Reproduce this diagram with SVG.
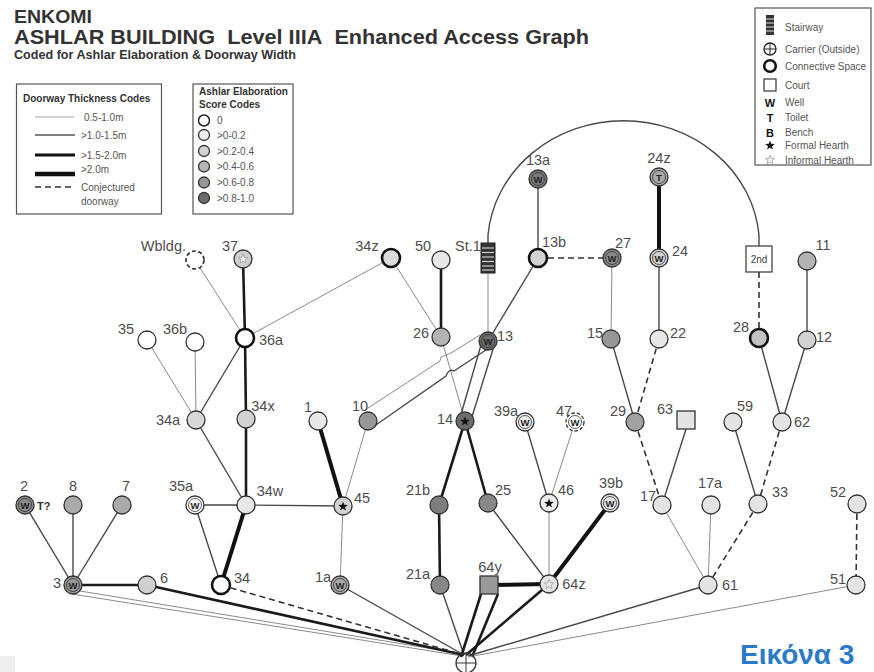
<svg xmlns="http://www.w3.org/2000/svg" xmlns:xlink="http://www.w3.org/1999/xlink" width="874" height="672" viewBox="0 0 874 672">
<style>
text{font-family:"Liberation Sans",Arial,sans-serif}
.lbl{font-size:14.5px;fill:#4d4d4d}
.leg{font-size:10px;fill:#555}
.legb{font-size:10px;font-weight:bold;fill:#333}
.t{stroke:#8a8a8a;stroke-width:1;fill:none}
.m{stroke:#484848;stroke-width:1.4;fill:none}
.k{stroke:#1a1a1a;stroke-width:2.6;fill:none}
.x{stroke:#111;stroke-width:4;fill:none}
.d{stroke:#333;stroke-width:1.6;stroke-dasharray:6 4;fill:none}
.n{stroke:#333;stroke-width:1.3}
.cs{stroke:#111;stroke-width:2.6}
.w{font-size:9.5px;font-weight:bold;fill:#222;text-anchor:middle}
.ring{fill:none;stroke:#333;stroke-width:0.8}
.fs{fill:#111}
.is{fill:#eee;stroke:#999;stroke-width:0.7}
.box{fill:#fff;stroke:#555;stroke-width:1.2}
</style>
<defs>
<path id="star" d="M0,-5 L1.23,-1.7 L4.76,-1.55 L2,0.65 L2.94,4.05 L0,2.1 L-2.94,4.05 L-2,0.65 L-4.76,-1.55 L-1.23,-1.7 Z"/>
</defs>
<rect width="874" height="672" fill="#fff"/>
<rect x="0" y="656" width="15" height="16" fill="#efefef"/>

<g id="title">
<text x="14" y="23" font-size="18" font-weight="bold" fill="#333" textLength="78" lengthAdjust="spacingAndGlyphs">ENKOMI</text>
<text x="14" y="44" font-size="20" font-weight="bold" fill="#333" textLength="575" lengthAdjust="spacingAndGlyphs">ASHLAR BUILDING&#160; Level IIIA&#160; Enhanced Access Graph</text>
<text x="14" y="59" font-size="12.5" font-weight="bold" fill="#333" textLength="282" lengthAdjust="spacingAndGlyphs">Coded for Ashlar Elaboration &amp; Doorway Width</text>
</g>

<g id="legend-doorway">
<rect class="box" x="16.5" y="84" width="145" height="130"/>
<text class="legb" x="23" y="102">Doorway Thickness Codes</text>
<line x1="35" y1="117" x2="74" y2="117" stroke="#999" stroke-width="0.9"/>
<text class="leg" x="84" y="120.5">0.5-1.0m</text>
<line x1="35" y1="135" x2="75" y2="135" stroke="#555" stroke-width="1.5"/>
<text class="leg" x="81" y="138.5">&gt;1.0-1.5m</text>
<line x1="35" y1="155" x2="75" y2="155" stroke="#111" stroke-width="2.8"/>
<text class="leg" x="81" y="158.5">&gt;1.5-2.0m</text>
<line x1="35" y1="174" x2="75" y2="174" stroke="#111" stroke-width="4.5"/>
<text class="leg" x="81" y="173">&gt;2.0m</text>
<line x1="35" y1="187" x2="75" y2="187" stroke="#333" stroke-width="1.5" stroke-dasharray="6 4"/>
<text class="leg" x="81" y="191">Conjectured</text>
<text class="leg" x="81" y="205">doorway</text>
</g>

<g id="legend-ashlar">
<rect class="box" x="193" y="84" width="100" height="130"/>
<text class="legb" x="199" y="95">Ashlar Elaboration</text>
<text class="legb" x="199" y="108">Score Codes</text>
<circle cx="204" cy="120.5" r="5.5" fill="#fff" stroke="#222" stroke-width="1.5"/>
<text class="leg" x="217" y="124">0</text>
<circle cx="204" cy="135" r="5.5" fill="#ececec" stroke="#333" stroke-width="1.3"/>
<text class="leg" x="217" y="138.5">&gt;0-0.2</text>
<circle cx="204" cy="151" r="5.5" fill="#d2d2d2" stroke="#333" stroke-width="1.3"/>
<text class="leg" x="217" y="154.5">&gt;0.2-0.4</text>
<circle cx="204" cy="166.5" r="5.5" fill="#b5b5b5" stroke="#333" stroke-width="1.3"/>
<text class="leg" x="217" y="170">&gt;0.4-0.6</text>
<circle cx="204" cy="182.5" r="5.5" fill="#979797" stroke="#333" stroke-width="1.3"/>
<text class="leg" x="217" y="186">&gt;0.6-0.8</text>
<circle cx="204" cy="198" r="5.5" fill="#6c6c6c" stroke="#333" stroke-width="1.3"/>
<text class="leg" x="217" y="201.5">&gt;0.8-1.0</text>
</g>

<g id="legend-symbols">
<rect class="box" x="755" y="8" width="116" height="157"/>
<rect x="766" y="15" width="8" height="20" fill="#333"/>
<g stroke="#ddd" stroke-width="1"><line x1="766" y1="19" x2="774" y2="19"/><line x1="766" y1="23" x2="774" y2="23"/><line x1="766" y1="27" x2="774" y2="27"/><line x1="766" y1="31" x2="774" y2="31"/></g>
<text class="leg" x="785" y="31">Stairway</text>
<circle cx="770" cy="49" r="6" fill="#fff" stroke="#222" stroke-width="1.3"/>
<line x1="764" y1="49" x2="776" y2="49" stroke="#222" stroke-width="1"/><line x1="770" y1="43" x2="770" y2="55" stroke="#222" stroke-width="1"/>
<text class="leg" x="785" y="52.5">Carrier (Outside)</text>
<circle cx="770" cy="66" r="5.8" fill="#fff" stroke="#111" stroke-width="2.6"/>
<text class="leg" x="785" y="69.5">Connective Space</text>
<rect x="764" y="79" width="12" height="12" fill="#fff" stroke="#333" stroke-width="1.2"/>
<text class="leg" x="785" y="89">Court</text>
<text x="770" y="106.5" font-size="11" font-weight="bold" fill="#111" text-anchor="middle">W</text>
<text class="leg" x="785" y="106">Well</text>
<text x="770" y="121.5" font-size="11" font-weight="bold" fill="#111" text-anchor="middle">T</text>
<text class="leg" x="785" y="121">Toilet</text>
<text x="770" y="136.5" font-size="11" font-weight="bold" fill="#111" text-anchor="middle">B</text>
<text class="leg" x="785" y="136">Bench</text>
<use href="#star" x="770" y="145.5" class="fs"/>
<text class="leg" x="785" y="149">Formal Hearth</text>
<use href="#star" x="770" y="160" class="is"/>
<text class="leg" x="785" y="163.5">Informal Hearth</text>
</g>

<g id="connectors">
<path class="m" d="M488,243 V235 A136,125 0 0 1 759,235 V246"/>
<line class="t" x1="195" y1="260" x2="245" y2="338"/>
<line class="k" x1="243" y1="259" x2="245" y2="338"/>
<line class="t" x1="391" y1="258" x2="245" y2="338"/>
<line class="k" x1="245" y1="338" x2="246" y2="419"/>
<line class="m" x1="245" y1="338" x2="196" y2="420"/>
<line class="t" x1="147" y1="340" x2="196" y2="420"/>
<line class="t" x1="195" y1="342" x2="196" y2="420" stroke="#aaa"/>
<line class="k" x1="246" y1="419" x2="246" y2="505"/>
<line class="m" x1="196" y1="420" x2="246" y2="505"/>
<line class="t" x1="391" y1="258" x2="441" y2="337"/>
<line class="k" x1="441" y1="260" x2="441" y2="337" stroke="#333"/>
<line class="t" x1="441" y1="337" x2="465" y2="421"/>
<line class="t" x1="488" y1="273" x2="488" y2="341"/>
<line class="m" x1="538" y1="258" x2="488" y2="341"/>
<line class="m" x1="538" y1="179" x2="538" y2="258"/>
<line class="d" x1="538" y1="258" x2="612" y2="258"/>
<line class="t" x1="612" y1="258" x2="611" y2="339"/>
<line class="x" x1="659" y1="177" x2="659" y2="258"/>
<line class="m" x1="659" y1="258" x2="659" y2="339"/>
<line class="d" x1="759" y1="272" x2="759" y2="338"/>
<line class="m" x1="807" y1="261" x2="807" y2="340"/>
<line class="m" x1="611" y1="339" x2="635" y2="422"/>
<line class="d" x1="659" y1="339" x2="635" y2="422"/>
<line class="m" x1="759" y1="338" x2="782" y2="422"/>
<line class="m" x1="807" y1="340" x2="782" y2="422"/>
<path class="t" d="M365,410 L440,361 L441,357 L451,353 L480,335" stroke="#555"/>
<path class="m" d="M373,427 L446,376 Q449,368 454,371 L492,346" stroke-width="2" stroke="#222"/>
<line class="m" x1="481" y1="345" x2="460" y2="418"/>
<line class="m" x1="494" y1="346" x2="470" y2="423"/>
<line class="k" x1="465" y1="421" x2="439" y2="505"/>
<line class="k" x1="465" y1="421" x2="488" y2="503"/>
<line class="x" x1="318" y1="421" x2="343" y2="506" stroke-width="3.5"/>
<line class="t" x1="368" y1="421" x2="343" y2="506"/>
<line class="m" x1="246" y1="505" x2="343" y2="506"/>
<line class="m" x1="195" y1="505" x2="246" y2="505"/>
<line class="m" x1="195" y1="505" x2="221" y2="585"/>
<line class="x" x1="246" y1="505" x2="221" y2="585" stroke-width="3.5"/>
<line class="t" x1="343" y1="506" x2="340" y2="585"/>
<line class="k" x1="439" y1="505" x2="440" y2="585" stroke-width="3"/>
<line class="m" x1="525" y1="422" x2="549" y2="503"/>
<line class="t" x1="575" y1="422" x2="549" y2="503"/>
<line class="d" x1="635" y1="422" x2="662" y2="505"/>
<line class="m" x1="686" y1="429" x2="662" y2="505"/>
<line class="m" x1="733" y1="422" x2="758" y2="504"/>
<line class="d" x1="782" y1="422" x2="758" y2="504"/>
<line class="m" x1="25" y1="505" x2="73" y2="585"/>
<line class="m" x1="73" y1="505" x2="73" y2="585"/>
<line class="m" x1="122" y1="505" x2="73" y2="585"/>
<line class="k" x1="73" y1="585" x2="147" y2="585" stroke-width="3.2"/>
<line class="m" x1="488" y1="503" x2="549" y2="584"/>
<line class="t" x1="549" y1="503" x2="549" y2="584"/>
<line class="x" x1="610" y1="503" x2="549" y2="584"/>
<line class="x" x1="489" y1="585" x2="549" y2="584"/>
<line class="t" x1="662" y1="505" x2="708" y2="585"/>
<line class="t" x1="711" y1="505" x2="708" y2="585"/>
<line class="d" x1="758" y1="504" x2="708" y2="585"/>
<line class="d" x1="857" y1="504" x2="856" y2="585"/>
<line class="t" x1="72" y1="594" x2="462" y2="656" stroke="#444"/>
<line class="t" x1="80" y1="591" x2="464" y2="654" stroke="#444"/>
<line class="k" x1="147" y1="585" x2="464" y2="655" stroke-width="3"/>
<line class="d" x1="221" y1="585" x2="464" y2="655"/>
<line class="m" x1="340" y1="585" x2="464" y2="655"/>
<line class="m" x1="440" y1="585" x2="464" y2="655"/>
<line class="k" x1="481" y1="594" x2="461" y2="657"/>
<line class="k" x1="498" y1="594" x2="472" y2="657"/>
<line class="k" x1="549" y1="584" x2="466" y2="655"/>
<line class="m" x1="708" y1="585" x2="468" y2="656"/>
<line class="t" x1="856" y1="585" x2="468" y2="657" stroke="#555"/>
</g>

<g id="node-Wbldg"><circle cx="195" cy="260" r="9" fill="#fff" stroke="#333" stroke-width="1.7" stroke-dasharray="4 2.5"/><text class="lbl" x="186" y="251" text-anchor="end">Wbldg.</text></g>
<g id="node-37"><circle class="n" cx="243" cy="259" r="9" fill="#cfcfcf"/><use href="#star" x="243" y="259" class="is"/><text class="lbl" x="230" y="251" text-anchor="middle">37</text></g>
<g id="node-34z"><circle class="cs" cx="391" cy="258" r="9" fill="#dcdcdc"/><text class="lbl" x="367" y="251" text-anchor="middle">34z</text></g>
<g id="node-50"><circle class="n" cx="441" cy="260" r="9" fill="#e8e8e8"/><text class="lbl" x="423" y="251" text-anchor="middle">50</text></g>
<g id="node-St1"><rect x="481" y="243" width="14" height="30" fill="#333" stroke="#222"/><g stroke="#ccc" stroke-width="1.2"><line x1="482" y1="248" x2="494" y2="248"/><line x1="482" y1="252.5" x2="494" y2="252.5"/><line x1="482" y1="257" x2="494" y2="257"/><line x1="482" y1="261.5" x2="494" y2="261.5"/><line x1="482" y1="266" x2="494" y2="266"/><line x1="482" y1="270" x2="494" y2="270"/></g><text class="lbl" x="468" y="251" text-anchor="middle">St.1</text></g>
<g id="node-13a"><circle class="n" cx="538" cy="179" r="9" fill="#7a7a7a"/><circle class="ring" cx="538" cy="179" r="6.5"/><text class="w" x="538" y="182.5">W</text><text class="lbl" x="538" y="165" text-anchor="middle">13a</text></g>
<g id="node-13b"><circle class="cs" cx="538" cy="258" r="9" fill="#d2d2d2"/><text class="lbl" x="554" y="247" text-anchor="middle">13b</text></g>
<g id="node-27"><circle class="n" cx="612" cy="258" r="9" fill="#8a8a8a"/><circle class="ring" cx="612" cy="258" r="6.5"/><text class="w" x="612" y="261.5">W</text><text class="lbl" x="623" y="248" text-anchor="middle">27</text></g>
<g id="node-24z"><circle class="n" cx="659" cy="177" r="9" fill="#a8a8a8"/><circle class="ring" cx="659" cy="177" r="6.5"/><text class="w" x="659" y="180.5">T</text><text class="lbl" x="659" y="163" text-anchor="middle">24z</text></g>
<g id="node-24"><circle class="n" cx="659" cy="258" r="9" fill="#d2d2d2"/><circle class="ring" cx="659" cy="258" r="6.5"/><text class="w" x="659" y="261.5">W</text><text class="lbl" x="680" y="256" text-anchor="middle">24</text></g>
<g id="node-2nd"><rect x="746" y="246" width="26" height="26" fill="#fff" stroke="#444" stroke-width="1.3"/><text x="759" y="263" font-size="10" fill="#444" text-anchor="middle">2nd</text></g>
<g id="node-11"><circle class="n" cx="807" cy="261" r="9" fill="#b3b3b3"/><text class="lbl" x="823" y="250" text-anchor="middle">11</text></g>
<g id="node-35"><circle class="n" cx="147" cy="340" r="9" fill="#fff"/><text class="lbl" x="126" y="334" text-anchor="middle">35</text></g>
<g id="node-36b"><circle class="n" cx="195" cy="342" r="9" fill="#fff"/><text class="lbl" x="175" y="334" text-anchor="middle">36b</text></g>
<g id="node-36a"><circle class="cs" cx="245" cy="338" r="9" fill="#fff"/><text class="lbl" x="271" y="345" text-anchor="middle">36a</text></g>
<g id="node-26"><circle class="n" cx="441" cy="337" r="9" fill="#b3b3b3"/><text class="lbl" x="421" y="338" text-anchor="middle">26</text></g>
<g id="node-13"><circle class="n" cx="488" cy="341" r="9" fill="#6c6c6c"/><circle class="ring" cx="488" cy="341" r="6.5"/><text class="w" x="488" y="344.5">W</text><text class="lbl" x="505" y="341" text-anchor="middle">13</text></g>
<g id="node-15"><circle class="n" cx="611" cy="339" r="9" fill="#979797"/><text class="lbl" x="595" y="338" text-anchor="middle">15</text></g>
<g id="node-22"><circle class="n" cx="659" cy="339" r="9" fill="#e8e8e8"/><text class="lbl" x="678" y="338" text-anchor="middle">22</text></g>
<g id="node-28"><circle class="cs" cx="759" cy="338" r="9" fill="#c2c2c2"/><text class="lbl" x="741" y="332" text-anchor="middle">28</text></g>
<g id="node-12"><circle class="n" cx="807" cy="340" r="9" fill="#d2d2d2"/><text class="lbl" x="824" y="342" text-anchor="middle">12</text></g>
<g id="node-34a"><circle class="n" cx="196" cy="420" r="9" fill="#d9d9d9"/><text class="lbl" x="168" y="425" text-anchor="middle">34a</text></g>
<g id="node-34x"><circle class="n" cx="246" cy="419" r="9" fill="#d2d2d2" stroke-width="2"/><text class="lbl" x="263" y="411" text-anchor="middle">34x</text></g>
<g id="node-1"><circle class="n" cx="318" cy="421" r="9" fill="#e8e8e8"/><text class="lbl" x="308" y="412" text-anchor="middle">1</text></g>
<g id="node-10"><circle class="n" cx="368" cy="421" r="9" fill="#979797"/><text class="lbl" x="360" y="411" text-anchor="middle">10</text></g>
<g id="node-14"><circle class="n" cx="465" cy="421" r="9" fill="#6c6c6c"/><use href="#star" x="465" y="421.5" class="fs"/><text class="lbl" x="445" y="424" text-anchor="middle">14</text></g>
<g id="node-39a"><circle class="n" cx="525" cy="422" r="9" fill="#ececec"/><circle class="ring" cx="525" cy="422" r="6.5"/><text class="w" x="525" y="425.5">W</text><text class="lbl" x="506" y="416" text-anchor="middle">39a</text></g>
<g id="node-47"><circle cx="575" cy="422" r="9" fill="#fff" stroke="#333" stroke-width="1.3" stroke-dasharray="3.5 2"/><circle class="ring" cx="575" cy="422" r="6.5"/><text class="w" x="575" y="425.5">W</text><text class="lbl" x="564" y="416" text-anchor="middle">47</text></g>
<g id="node-29"><circle class="n" cx="635" cy="422" r="9" fill="#a2a2a2"/><text class="lbl" x="618" y="416" text-anchor="middle">29</text></g>
<g id="node-63"><rect x="677" y="411" width="18" height="18" fill="#e4e4e4" stroke="#333" stroke-width="1.3"/><text class="lbl" x="665" y="414" text-anchor="middle">63</text></g>
<g id="node-59"><circle class="n" cx="733" cy="422" r="9" fill="#e4e4e4"/><text class="lbl" x="745" y="411" text-anchor="middle">59</text></g>
<g id="node-62"><circle class="n" cx="782" cy="422" r="9" fill="#e4e4e4"/><text class="lbl" x="802" y="427" text-anchor="middle">62</text></g>
<g id="node-2"><circle class="n" cx="25" cy="505" r="9" fill="#8a8a8a"/><circle class="ring" cx="25" cy="505" r="6.5"/><text class="w" x="25" y="508.5">W</text><text class="lbl" x="24" y="491" text-anchor="middle">2</text><text x="37" y="510" font-size="11" font-weight="bold" fill="#333">T?</text></g>
<g id="node-8"><circle class="n" cx="73" cy="505" r="9" fill="#aaaaaa"/><text class="lbl" x="73" y="491" text-anchor="middle">8</text></g>
<g id="node-7"><circle class="n" cx="122" cy="505" r="9" fill="#aaaaaa"/><text class="lbl" x="126" y="491" text-anchor="middle">7</text></g>
<g id="node-35a"><circle class="n" cx="195" cy="505" r="9" fill="#fff"/><circle class="ring" cx="195" cy="505" r="6.5"/><text class="w" x="195" y="508.5">W</text><text class="lbl" x="181" y="491" text-anchor="middle">35a</text></g>
<g id="node-34w"><circle class="n" cx="246" cy="505" r="9" fill="#e8e8e8"/><text class="lbl" x="270" y="496" text-anchor="middle">34w</text></g>
<g id="node-45"><circle class="n" cx="343" cy="506" r="9" fill="#d2d2d2"/><use href="#star" x="343" y="506.5" class="fs"/><text class="lbl" x="362" y="503" text-anchor="middle">45</text></g>
<g id="node-21b"><circle class="n" cx="439" cy="505" r="9" fill="#7e7e7e"/><text class="lbl" x="418" y="495" text-anchor="middle">21b</text></g>
<g id="node-25"><circle class="n" cx="488" cy="503" r="9" fill="#888"/><text class="lbl" x="503" y="495" text-anchor="middle">25</text></g>
<g id="node-46"><circle class="n" cx="549" cy="503" r="9" fill="#ececec"/><use href="#star" x="549" y="503.5" class="fs"/><text class="lbl" x="566" y="495" text-anchor="middle">46</text></g>
<g id="node-39b"><circle class="n" cx="610" cy="503" r="9" fill="#e4e4e4"/><circle class="ring" cx="610" cy="503" r="6.5"/><text class="w" x="610" y="506.5">W</text><text class="lbl" x="611" y="488" text-anchor="middle">39b</text></g>
<g id="node-17"><circle class="n" cx="662" cy="505" r="9" fill="#e4e4e4"/><text class="lbl" x="648" y="501" text-anchor="middle">17</text></g>
<g id="node-17a"><circle class="n" cx="711" cy="505" r="9" fill="#e4e4e4"/><text class="lbl" x="710" y="488" text-anchor="middle">17a</text></g>
<g id="node-33"><circle class="n" cx="758" cy="504" r="9" fill="#e4e4e4"/><text class="lbl" x="780" y="497" text-anchor="middle">33</text></g>
<g id="node-52"><circle class="n" cx="857" cy="504" r="9" fill="#e4e4e4"/><text class="lbl" x="838" y="497" text-anchor="middle">52</text></g>
<g id="node-3"><circle class="n" cx="73" cy="585" r="9" fill="#979797"/><circle class="ring" cx="73" cy="585" r="6.5"/><text class="w" x="73" y="588.5">W</text><text class="lbl" x="57" y="588" text-anchor="middle">3</text></g>
<g id="node-6"><circle class="n" cx="147" cy="585" r="9" fill="#cfcfcf"/><text class="lbl" x="164" y="583" text-anchor="middle">6</text></g>
<g id="node-34"><circle class="cs" cx="221" cy="585" r="9" fill="#fff"/><text class="lbl" x="242" y="583" text-anchor="middle">34</text></g>
<g id="node-1a"><circle class="n" cx="340" cy="585" r="9" fill="#aaaaaa" stroke-width="1.8"/><circle class="ring" cx="340" cy="585" r="6.5"/><text class="w" x="340" y="588.5">W</text><text class="lbl" x="323" y="582" text-anchor="middle">1a</text></g>
<g id="node-21a"><circle class="n" cx="440" cy="585" r="9" fill="#888"/><text class="lbl" x="418" y="579" text-anchor="middle">21a</text></g>
<g id="node-64y"><rect x="480" y="576" width="18" height="18" fill="#999" stroke="#333" stroke-width="1.3"/><text class="lbl" x="490" y="572" text-anchor="middle">64y</text></g>
<g id="node-64z"><circle class="n" cx="549" cy="584" r="9" fill="#e4e4e4"/><use href="#star" x="549" y="584.5" class="is"/><text class="lbl" x="574" y="589" text-anchor="middle">64z</text></g>
<g id="node-61"><circle class="n" cx="708" cy="585" r="9" fill="#e4e4e4"/><text class="lbl" x="730" y="590" text-anchor="middle">61</text></g>
<g id="node-51"><circle class="n" cx="856" cy="585" r="9" fill="#e4e4e4"/><text class="lbl" x="838" y="584" text-anchor="middle">51</text></g>
<g id="node-carrier"><circle cx="466" cy="663" r="10" fill="none" stroke="#333" stroke-width="1.3"/><line x1="456" y1="663" x2="476" y2="663" stroke="#333" stroke-width="1"/><line x1="466" y1="653" x2="466" y2="673" stroke="#333" stroke-width="1"/></g>

<g id="caption"><text x="740" y="664" font-size="28" font-weight="bold" fill="#2a7ac8">Εικόνα 3</text></g>
</svg>
